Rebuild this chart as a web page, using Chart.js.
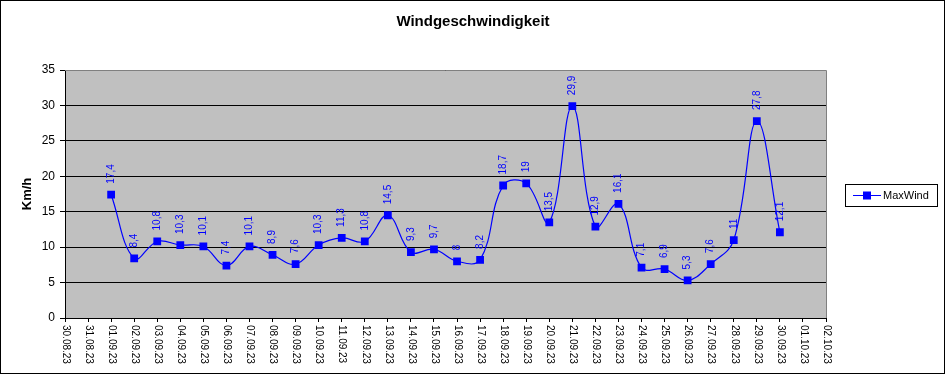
<!DOCTYPE html>
<html>
<head>
<meta charset="utf-8">
<script src="https://cdn.jsdelivr.net/npm/chart.js@4"></script>
<style>
html,body{margin:0;padding:0;background:#fff;}
canvas{display:block;}
</style>
</head>
<body>
<canvas id="c" width="946" height="375"></canvas>
<script>
const chartTitle = "Windgeschwindigkeit";
const yAxisTitle = "Km/h";
const seriesName = "MaxWind";
const categories = ["30.08.23","31.08.23","01.09.23","02.09.23","03.09.23","04.09.23","05.09.23","06.09.23","07.09.23","08.09.23","09.09.23","10.09.23","11.09.23","12.09.23","13.09.23","14.09.23","15.09.23","16.09.23","17.09.23","18.09.23","19.09.23","20.09.23","21.09.23","22.09.23","23.09.23","24.09.23","25.09.23","26.09.23","27.09.23","28.09.23","29.09.23","30.09.23","01.10.23","02.10.23"];
const maxWind = [null,null,17.4,8.4,10.8,10.3,10.1,7.4,10.1,8.9,7.6,10.3,11.3,10.8,14.5,9.3,9.7,8,8.2,18.7,19,13.5,29.9,12.9,16.1,7.1,6.9,5.3,7.6,11,27.8,12.1,null,null];
const yMin = 0, yMax = 35, yStep = 5;

const FONT = "'Liberation Sans', Arial, sans-serif";

const decor = {
  id: 'decor',
  beforeDraw(chart) {
    const {ctx, chartArea: a} = chart;
    ctx.save();
    ctx.fillStyle = '#fff';
    ctx.fillRect(0, 0, chart.width, chart.height);
    ctx.fillStyle = '#c0c0c0';
    ctx.fillRect(a.left, a.top, a.right - a.left, a.bottom - a.top);
    ctx.restore();
  },
  afterDraw(chart) {
    const {ctx, chartArea: a} = chart;
    ctx.save();
    // plot border top/right
    ctx.strokeStyle = '#808080';
    ctx.lineWidth = 1;
    ctx.beginPath();
    ctx.moveTo(a.left, a.top + 0.5);
    ctx.lineTo(a.right + 0.5, a.top + 0.5);
    ctx.lineTo(a.right + 0.5, a.bottom);
    ctx.stroke();
    // x labels rotated clockwise (reading top to bottom)
    const xs = chart.scales.x;
    ctx.fillStyle = '#000';
    ctx.font = '10px ' + FONT;
    ctx.textAlign = 'left';
    ctx.textBaseline = 'middle';
    chart.data.labels.forEach((lab, i) => {
      const x = xs.getPixelForTick(i);
      ctx.save();
      ctx.translate(x + 0.5, xs.top + 7);
      ctx.rotate(Math.PI / 2);
      ctx.fillText(lab, 0, 0);
      ctx.restore();
    });
    // outer border
    ctx.strokeStyle = '#000';
    ctx.strokeRect(0.5, 0.5, 944, 373);
    // title
    ctx.fillStyle = '#000';
    ctx.font = 'bold 15px ' + FONT;
    ctx.textAlign = 'center';
    ctx.textBaseline = 'middle';
    ctx.fillText(chartTitle, 473, 22);
    // legend
    const lx = 845, ly = 184, lw = 92, lh = 22;
    ctx.fillStyle = '#fff';
    ctx.fillRect(lx, ly, lw, lh);
    ctx.strokeStyle = '#000';
    ctx.strokeRect(lx + 0.5, ly + 0.5, lw, lh);
    const cy = ly + lh / 2 + 0.5;
    ctx.strokeStyle = '#0000ff';
    ctx.lineWidth = 1;
    ctx.beginPath();
    ctx.moveTo(lx + 8, cy);
    ctx.lineTo(lx + 36, cy);
    ctx.stroke();
    ctx.fillStyle = '#0000ff';
    ctx.fillRect(lx + 18, cy - 4, 8, 8);
    ctx.fillStyle = '#000';
    ctx.font = '11px ' + FONT;
    ctx.textAlign = 'left';
    ctx.fillText(seriesName, lx + 38, cy);
    ctx.restore();
  },
  afterDatasetsDraw(chart) {
    const {ctx} = chart;
    const meta = chart.getDatasetMeta(0);
    const data = chart.data.datasets[0].data;
    ctx.save();
    ctx.fillStyle = '#0000ff';
    ctx.font = '10px ' + FONT;
    ctx.textAlign = 'left';
    ctx.textBaseline = 'middle';
    meta.data.forEach((el, i) => {
      const v = data[i];
      if (v === null || v === undefined) return;
      ctx.save();
      ctx.translate(el.x, el.y - 11);
      ctx.rotate(-Math.PI / 2);
      ctx.fillText(String(v).replace('.', ','), 0, 0);
      ctx.restore();
    });
    ctx.restore();
  }
};

new Chart(document.getElementById('c'), {
  type: 'line',
  data: {
    labels: categories,
    datasets: [{
      label: seriesName,
      data: maxWind,
      borderColor: '#0000ff',
      backgroundColor: '#0000ff',
      borderWidth: 1.2,
      tension: 0.4,
      pointStyle: 'rect',
      pointRadius: 5.5,
      pointBorderWidth: 0,
      pointBackgroundColor: '#0000ff',
      fill: false
    }]
  },
  options: {
    responsive: false,
    animation: false,
    devicePixelRatio: 1,
    layout: { padding: { top: 70, right: 120, bottom: 0, left: 0 } },
    plugins: {
      legend: { display: false },
      title: { display: false },
      tooltip: { enabled: false }
    },
    scales: {
      x: {
        type: 'category',
        offset: false,
        afterFit(s) { s.height = 57; },
        grid: { drawOnChartArea: false, drawTicks: true, tickLength: 4, color: '#000' },
        border: { color: '#000', width: 1 },
        ticks: {
          display: false,
          autoSkip: false,
          maxRotation: 0,
          minRotation: 0
        }
      },
      y: {
        min: yMin,
        max: yMax,
        afterFit(s) { s.width = 65; },
        grid: { color: '#000', lineWidth: 1, drawTicks: true, tickLength: 5 },
        border: { color: '#000', width: 1 },
        ticks: {
          stepSize: yStep,
          padding: 5,
          color: '#000',
          font: { family: FONT, size: 12 }
        },
        title: {
          display: true,
          text: yAxisTitle,
          color: '#000',
          font: { family: FONT, size: 13, weight: 'bold' },
          padding: { top: 20, bottom: 0 }
        }
      }
    }
  },
  plugins: [decor]
});
</script>
</body>
</html>
